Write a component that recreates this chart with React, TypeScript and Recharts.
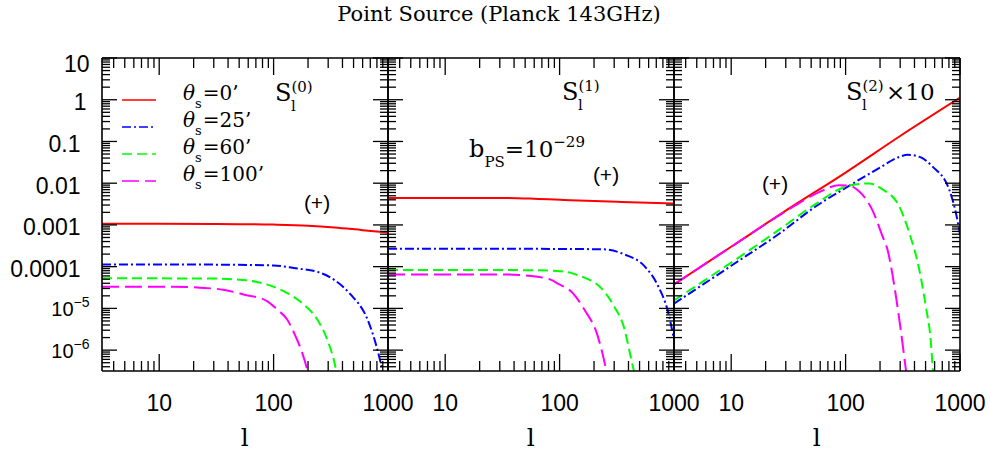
import React from "react";
import { LineChart, Line, XAxis, YAxis } from "recharts";

// axis ranges (log-log)
const X_DOMAIN: [number, number] = [3.1623, 1000];
const Y_DOMAIN: [number, number] = [3.1623e-7, 10];

const X_MAJOR = [10, 100, 1000];
const X_LABELS = ["10", "100", "1000"];
const X_MINOR = [4, 5, 6, 7, 8, 9, 20, 30, 40, 50, 60, 70, 80, 90, 200, 300, 400, 500, 600, 700, 800, 900];
const Y_MAJOR = [1e-6, 1e-5, 1e-4, 1e-3, 1e-2, 0.1, 1, 10];
const Y_LABELS = ["10|−6", "10|−5", "0.0001", "0.001", "0.01", "0.1", "1", "10"];
const Y_DECADES = [1e-7, 1e-6, 1e-5, 1e-4, 1e-3, 1e-2, 0.1, 1];
const MANTISSAS = [2, 3, 4, 5, 6, 7, 8, 9];

const THETAS = ["0", "25", "60", "100"];
const COLORS = ["#ff0000", "#0000ff", "#00ff00", "#ff00ff"];
const DASHES = [undefined, "9 3 2 3", "10 5", "17 6"];

// S_l^(0), [l, value]
const s0_t0 = [[3.16, 1.07e-3], [10, 1.07e-3], [30, 1.06e-3], [100, 1.02e-3], [200, 9.6e-4], [340, 8.7e-4], [600, 7.5e-4], [1000, 6.6e-4]];
const s0_t25 = [[3.16, 1.13e-4], [10, 1.13e-4], [30, 1.12e-4], [60, 1.1e-4], [100, 1.07e-4], [150, 9.3e-5], [257, 7.1e-5], [336, 4.9e-5], [471, 2.16e-5], [661, 5.5e-6], [807, 1.04e-6], [930, 2.0e-7]];
const s0_t60 = [[3.16, 5.3e-5], [10, 5.25e-5], [29.8, 5.2e-5], [44.5, 5.0e-5], [71.5, 4.3e-5], [122, 2.6e-5], [183, 1.25e-5], [240, 5.5e-6], [294, 1.8e-6], [343, 4.6e-7], [365, 2.0e-7]];
const s0_t100 = [[3.16, 3.3e-5], [13.2, 3.3e-5], [22.7, 3.13e-5], [36.4, 2.8e-5], [54.6, 2.16e-5], [87.5, 1.5e-5], [107, 9.5e-6], [131, 5.5e-6], [155, 2.2e-6], [178, 8.6e-7], [196, 3.5e-7], [205, 2.0e-7]];

// S_l^(1)
const s1_t0 = [[3.16, 4.45e-3], [30, 4.45e-3], [60, 4.25e-3], [125, 3.9e-3], [350, 3.55e-3], [1000, 3.25e-3]];
const s1_t25 = [[3.16, 2.68e-4], [30, 2.68e-4], [100, 2.66e-4], [245, 2.6e-4], [369, 1.96e-4], [554, 1.02e-4], [728, 3.4e-5], [891, 7.9e-6], [1000, 1.8e-6]];
const s1_t60 = [[3.16, 8.3e-5], [30, 8.3e-5], [60, 8.2e-5], [95.5, 7.9e-5], [125, 7.1e-5], [153, 5.9e-5], [230, 3.1e-5], [301, 1.1e-5], [369, 3.2e-6], [423, 6e-7], [455, 2.5e-7]];
const s1_t100 = [[3.16, 6.5e-5], [32.2, 6.5e-5], [48.4, 6.2e-5], [83.4, 4.9e-5], [98.5, 3.8e-5], [125, 2.6e-5], [164, 9.5e-6], [215, 2.2e-6], [254, 3.5e-7], [262, 2.2e-7]];

// S_l^(2) x 10
const s2_t0 = [[3.16, 3.75e-5], [10, 3.0e-4], [30, 2.2e-3], [100, 1.8e-2], [300, 0.135], [1000, 1.12]];
const s2_t25 = [[3.16, 1.3e-5], [10, 1.05e-4], [27, 6.5e-4], [55, 2.8e-3], [100, 7.7e-3], [196, 2.3e-2], [290, 4.2e-2], [350, 4.8e-2], [450, 4.2e-2], [576, 2.5e-2], [805, 7.0e-3], [922, 1.9e-3], [1000, 6.0e-4]];
const s2_t60 = [[3.16, 1.55e-5], [10, 1.25e-4], [25, 7.0e-4], [55, 3.2e-3], [100, 8.3e-3], [130, 9.6e-3], [160, 9.9e-3], [210, 7.1e-3], [294, 2.8e-3], [360, 6.5e-4], [440, 8.6e-5], [503, 1.1e-5], [557, 1.5e-6], [576, 4.2e-7], [590, 2.0e-7]];
const s2_t100 = [[3.16, 3.75e-5], [10, 3.0e-4], [20, 1.05e-3], [39, 3.3e-3], [58, 6.0e-3], [87.5, 8.9e-3], [105, 8.8e-3], [131, 6.4e-3], [171, 2.3e-3], [210, 5.4e-4], [232, 2.6e-4], [275, 2.0e-5], [314, 1.5e-6], [336, 3.5e-7], [345, 2.0e-7]];

const PANEL_SERIES = [
  [s0_t0, s0_t25, s0_t60, s0_t100],
  [s1_t0, s1_t25, s1_t60, s1_t100],
  [s2_t0, s2_t25, s2_t60, s2_t100],
];

const SERIF = "'DejaVu Serif', serif";
const SANS = "'Liberation Sans', Arial, sans-serif";

const PANEL_X = [101.7, 387.7, 673.7];
const PLOT_TOP = 58;
const PLOT_W = 286;
const PLOT_H = 313;
const Y_LABEL_GAP = [12.5, 12.5, 21.5, 21.5, 21.5, 21.5, 15.5, 12.5];

const xTicks = [...X_MINOR, ...X_MAJOR].sort((a, b) => a - b);
const yTicks = [
  ...Y_MAJOR,
  ...Y_DECADES.flatMap((d) => MANTISSAS.map((m) => m * d)).filter((v) => v > Y_DOMAIN[0] && v < Y_DOMAIN[1]),
].sort((a, b) => a - b);

const findMajor = (list: number[], v: number) => list.findIndex((m) => Math.abs(v - m) / m < 1e-6);

function makeXTick(side: "bottom" | "top", showLabel: boolean) {
  return (p: any) => {
    const v = p.payload.value;
    const i = findMajor(X_MAJOR, v);
    const len = i >= 0 ? 17 : 10;
    const dir = side === "bottom" ? -1 : 1;
    return (
      <g>
        <line x1={p.x} x2={p.x} y1={p.y} y2={p.y + dir * len} stroke="#000" strokeWidth={1.3} />
        {showLabel && i >= 0 && (
          <text x={p.x} y={p.y + 40} textAnchor="middle" fontFamily={SANS} fontSize={23} fill="#000">
            {X_LABELS[i]}
          </text>
        )}
      </g>
    );
  };
}

function makeYTick(side: "left" | "right", showLabel: boolean) {
  return (p: any) => {
    const v = p.payload.value;
    const i = findMajor(Y_MAJOR, v);
    const len = i >= 0 ? 15 : 8;
    const dir = side === "left" ? 1 : -1;
    let label = null;
    if (showLabel && i >= 0) {
      const [base, exp] = Y_LABELS[i].split("|");
      label = exp ? (
        <text x={p.x - Y_LABEL_GAP[i]} y={p.y + 8} textAnchor="end" fontFamily={SANS} fill="#000">
          <tspan fontSize={20}>{base}</tspan>
          <tspan fontSize={14} dy={-9}>{exp}</tspan>
        </text>
      ) : (
        <text x={p.x - Y_LABEL_GAP[i]} y={p.y + (i === Y_MAJOR.length - 1 ? 13.5 : 10.5)} textAnchor="end" fontFamily={SANS} fontSize={23} fill="#000">
          {base}
        </text>
      );
    }
    return (
      <g>
        <line x1={p.x} x2={p.x + dir * len} y1={p.y} y2={p.y} stroke="#000" strokeWidth={1.3} />
        {label}
      </g>
    );
  };
}

const frame = { stroke: "#000", strokeWidth: 1.6 };

function Panel({ idx }: { idx: number }) {
  const ML = 100;
  const MR = 40;
  const MB = 456 - PLOT_TOP - PLOT_H;
  const series = PANEL_SERIES[idx];
  return (
    <div style={{ position: "absolute", left: PANEL_X[idx] - ML, top: 0 }}>
      <LineChart
        width={PLOT_W + ML + MR}
        height={456}
        margin={{ top: PLOT_TOP - 1, left: ML - 1, right: MR - 1, bottom: MB - 1 }}
      >
        <XAxis xAxisId="b" dataKey="l" type="number" scale="log" domain={X_DOMAIN} allowDataOverflow
          ticks={xTicks} interval={0} height={1} tickSize={0} tickMargin={0} tickLine={false}
          axisLine={frame} tick={makeXTick("bottom", true)} />
        <XAxis xAxisId="t" orientation="top" dataKey="l" type="number" scale="log" domain={X_DOMAIN} allowDataOverflow
          ticks={xTicks} interval={0} height={1} tickSize={0} tickMargin={0} tickLine={false}
          axisLine={frame} tick={makeXTick("top", false)} />
        <YAxis yAxisId="l" type="number" scale="log" domain={Y_DOMAIN} allowDataOverflow
          ticks={yTicks} interval={0} width={1} tickSize={0} tickMargin={0} tickLine={false}
          axisLine={frame} tick={makeYTick("left", idx === 0)} />
        <YAxis yAxisId="r" orientation="right" type="number" scale="log" domain={Y_DOMAIN} allowDataOverflow
          ticks={yTicks} interval={0} width={1} tickSize={0} tickMargin={0} tickLine={false}
          axisLine={frame} tick={makeYTick("right", false)} />
        {series.map((s, k) => (
          <Line
            key={k}
            xAxisId="b"
            yAxisId="l"
            data={s.map(([l, v]) => ({ l, v }))}
            dataKey="v"
            type="monotone"
            stroke={COLORS[k]}
            strokeWidth={2}
            strokeDasharray={DASHES[k]}
            dot={false}
            isAnimationActive={false}
          />
        ))}
      </LineChart>
    </div>
  );
}

function Sl({ x, y, sup }: { x: number; y: number; sup: string }) {
  return (
    <text x={x} y={y} fontFamily={SERIF} fontSize={24} fill="#000">
      S
      <tspan fontSize={15} dy={-9.5}>{sup}</tspan>
      <tspan fontSize={15} x={x + 16} dy={19}>l</tspan>
    </text>
  );
}

function Overlay() {
  const legendY = [100, 127, 154, 181];
  return (
    <svg width={990} height={456} style={{ position: "absolute", left: 0, top: 0, pointerEvents: "none" }}>
      <text x={499} y={21} textAnchor="middle" fontFamily={SERIF} fontSize={21} fill="#000">
        Point Source (Planck 143GHz)
      </text>
      {PANEL_X.map((px) => (
        <text key={px} x={px + PLOT_W / 2} y={446} textAnchor="middle" fontFamily={SERIF} fontSize={25} fill="#000">
          l
        </text>
      ))}
      {THETAS.map((t, k) => (
        <g key={t}>
          <line x1={122} x2={156} y1={legendY[k]} y2={legendY[k]} stroke={COLORS[k]} strokeWidth={1.4} strokeDasharray={DASHES[k]} />
          <text x={183} y={legendY[k]} fontFamily={SERIF} fontSize={20} fill="#000">
            <tspan fontStyle="italic">θ</tspan>
            <tspan fontSize={13} dy={8}>s</tspan>
            <tspan dy={-8} dx={1}>{`=${t}’`}</tspan>
          </text>
        </g>
      ))}
      <Sl x={275} y={101} sup="(0)" />
      <text x={317} y={210} textAnchor="middle" fontFamily={SANS} fontSize={21} fill="#000">(+)</text>

      <Sl x={562} y={100} sup="(1)" />
      <text x={469} y={157} fontFamily={SERIF} fontSize={24} fill="#000">
        b
        <tspan fontSize={15} dy={10}>PS</tspan>
        <tspan fontSize={23} dy={-10}>=10</tspan>
        <tspan fontSize={15} dy={-10}>−29</tspan>
      </text>
      <text x={606} y={182} textAnchor="middle" fontFamily={SANS} fontSize={21} fill="#000">(+)</text>

      <Sl x={846} y={100} sup="(2)" />
      <text x={886} y={100} fontFamily={SERIF} fontSize={23} fill="#000">×10</text>
      <text x={775} y={191} textAnchor="middle" fontFamily={SANS} fontSize={21} fill="#000">(+)</text>
    </svg>
  );
}

export default function App() {
  return (
    <div style={{ position: "absolute", left: 0, top: 0, width: 990, height: 456, background: "#fff" }}>
      {PANEL_X.map((_, i) => (
        <Panel key={i} idx={i} />
      ))}
      <Overlay />
    </div>
  );
}
